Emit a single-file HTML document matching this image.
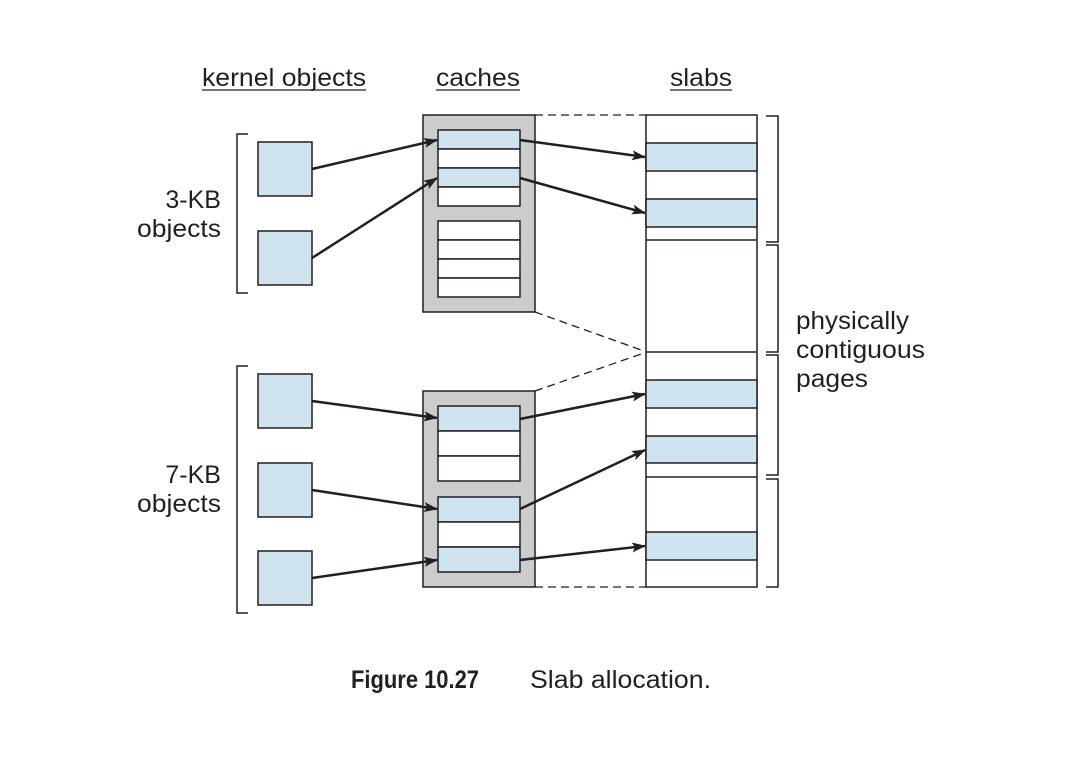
<!DOCTYPE html>
<html><head><meta charset="utf-8"><style>
html,body{margin:0;padding:0;background:#fff;}
svg{display:block;}
text{font-family:"Liberation Sans",Arial,sans-serif;fill:#231f20;}
</style></head><body>
<svg width="1074" height="782" viewBox="0 0 1074 782" xmlns="http://www.w3.org/2000/svg">
<defs>
<marker id="ah" markerWidth="14" markerHeight="10" refX="13" refY="5" orient="auto" markerUnits="userSpaceOnUse">
<path d="M0,0 L14,5 L0,10 L3,5 Z" fill="#231f20"/>
</marker>
</defs>
<text x="202" y="86" font-size="25" textLength="164" lengthAdjust="spacingAndGlyphs">kernel objects</text>
<line x1="202" y1="90" x2="366" y2="90" stroke="#231f20" stroke-width="1.3"/>
<text x="436" y="86" font-size="25" textLength="84" lengthAdjust="spacingAndGlyphs">caches</text>
<line x1="436" y1="90" x2="520" y2="90" stroke="#231f20" stroke-width="1.3"/>
<text x="670" y="86" font-size="25" textLength="62" lengthAdjust="spacingAndGlyphs">slabs</text>
<line x1="670" y1="90" x2="732" y2="90" stroke="#231f20" stroke-width="1.3"/>

<text x="221" y="208" font-size="25" text-anchor="end">3-KB</text>
<text x="221" y="237" font-size="25" text-anchor="end" textLength="84" lengthAdjust="spacingAndGlyphs">objects</text>
<text x="221" y="483" font-size="25" text-anchor="end">7-KB</text>
<text x="221" y="512" font-size="25" text-anchor="end" textLength="84" lengthAdjust="spacingAndGlyphs">objects</text>
<text x="796" y="329" font-size="25" textLength="113" lengthAdjust="spacingAndGlyphs">physically</text>
<text x="796" y="358" font-size="25" textLength="129" lengthAdjust="spacingAndGlyphs">contiguous</text>
<text x="796" y="387" font-size="25" textLength="72" lengthAdjust="spacingAndGlyphs">pages</text>

<g fill="none" stroke="#231f20" stroke-width="1.5">
<path d="M248,134 H237 V293 H248"/>
<path d="M248,366 H237 V613 H248"/>
<path d="M766,116 H778 V242 H766"/>
<path d="M766,245 H778 V352 H766"/>
<path d="M766,355 H778 V475 H766"/>
<path d="M766,479 H778 V587 H766"/>
</g>

<g fill="#cfe4ee" stroke="#231f20" stroke-width="1.5">
<rect x="258" y="142" width="54" height="54"/>
<rect x="258" y="231" width="54" height="54"/>
<rect x="258" y="374" width="54" height="54"/>
<rect x="258" y="463" width="54" height="54"/>
<rect x="258" y="551" width="54" height="54"/>
</g>

<g stroke="#231f20" stroke-width="1.5">
<rect x="423" y="115" width="112" height="197" fill="#cccccc"/>
<rect x="438" y="130" width="82" height="19" fill="#cfe4ee"/>
<rect x="438" y="149" width="82" height="19" fill="#fff"/>
<rect x="438" y="168" width="82" height="19" fill="#cfe4ee"/>
<rect x="438" y="187" width="82" height="19" fill="#fff"/>
<rect x="438" y="221" width="82" height="19" fill="#fff"/>
<rect x="438" y="240" width="82" height="19" fill="#fff"/>
<rect x="438" y="259" width="82" height="19" fill="#fff"/>
<rect x="438" y="278" width="82" height="19" fill="#fff"/>

<rect x="423" y="391" width="112" height="196" fill="#cccccc"/>
<rect x="438" y="406" width="82" height="25" fill="#cfe4ee"/>
<rect x="438" y="431" width="82" height="25" fill="#fff"/>
<rect x="438" y="456" width="82" height="25" fill="#fff"/>
<rect x="438" y="497" width="82" height="25" fill="#cfe4ee"/>
<rect x="438" y="522" width="82" height="25" fill="#fff"/>
<rect x="438" y="547" width="82" height="25" fill="#cfe4ee"/>
</g>

<g stroke="#231f20" stroke-width="1.5">
<rect x="646" y="115" width="111" height="472" fill="#fff"/>
<rect x="646" y="143" width="111" height="28" fill="#cfe4ee"/>
<rect x="646" y="199" width="111" height="28" fill="#cfe4ee"/>
<rect x="646" y="380" width="111" height="28" fill="#cfe4ee"/>
<rect x="646" y="436" width="111" height="27" fill="#cfe4ee"/>
<rect x="646" y="532" width="111" height="28" fill="#cfe4ee"/>
<line x1="646" y1="240" x2="757" y2="240"/>
<line x1="646" y1="352" x2="757" y2="352"/>
<line x1="646" y1="477" x2="757" y2="477"/>
</g>

<g stroke="#231f20" stroke-width="1.3" stroke-dasharray="8,5" fill="none">
<line x1="535" y1="115" x2="646" y2="115"/>
<line x1="535" y1="312" x2="644" y2="351"/>
<line x1="535" y1="391" x2="644" y2="353"/>
<line x1="535" y1="587" x2="646" y2="587"/>
</g>

<g stroke="#231f20" stroke-width="2.5" marker-end="url(#ah)">
<line x1="312" y1="169" x2="437" y2="140"/>
<line x1="312" y1="258" x2="437" y2="178"/>
<line x1="520" y1="140" x2="645" y2="157"/>
<line x1="520" y1="178" x2="645" y2="213"/>
<line x1="312" y1="401" x2="437" y2="418"/>
<line x1="312" y1="490" x2="437" y2="509"/>
<line x1="312" y1="578" x2="437" y2="560"/>
<line x1="520" y1="419" x2="645" y2="394"/>
<line x1="520" y1="509" x2="645" y2="450"/>
<line x1="520" y1="560" x2="645" y2="546"/>
</g>

<text x="351" y="688" font-size="25" font-weight="bold" textLength="128" lengthAdjust="spacingAndGlyphs">Figure 10.27</text>
<text x="530" y="688" font-size="25" textLength="181" lengthAdjust="spacingAndGlyphs">Slab allocation.</text>
</svg>
</body></html>
